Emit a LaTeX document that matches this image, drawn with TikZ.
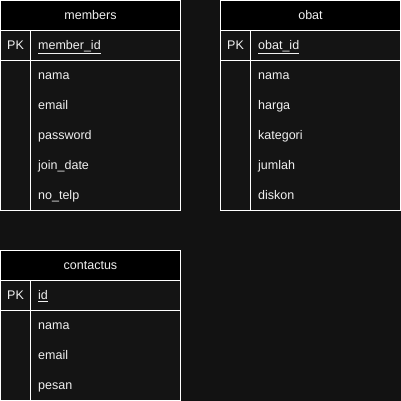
\documentclass[tikz,border=0pt]{standalone}
\usepackage{fontspec}
\setmainfont{Liberation Sans}
\definecolor{bg}{HTML}{121212}
\definecolor{body}{HTML}{141414}
\definecolor{txt}{HTML}{F0F0F0}
\begin{document}
\begin{tikzpicture}[x=1pt,y=-1pt,
  frame/.style={draw=white,line width=1pt},
  hdr/.style={fill=black,draw=white,line width=1pt},
  title/.style={text=txt,font=\fontsize{12.5}{14}\selectfont,anchor=base,inner sep=0pt},
  pk/.style={text=txt,font=\fontsize{12.5}{14}\selectfont,anchor=base,inner sep=0pt},
  attr/.style={text=txt,font=\fontsize{12.5}{14}\selectfont,anchor=base west,inner sep=0pt}]
\fill[bg] (0,0) rectangle (401,401);
\useasboundingbox (0,0) rectangle (401,401);
% ---- members
\fill[body] (0.5,30.5) rectangle (180.5,210.5);
\draw[hdr] (0.5,0.5) rectangle (180.5,30.5);
\draw[frame] (0.5,30.5) rectangle (180.5,210.5);
\draw[frame] (0.5,60.5) -- (180.5,60.5);
\draw[frame] (30.5,30.5) -- (30.5,210.5);
\node[title] (mT) at (90.5,19.5) {members};
\node[pk] (mPK) at (15.5,49.5) {PK};
\node[attr] (m1) at (38,49.5) {\underline{member\_id}};
\node[attr] (m2) at (38,79.5) {nama};
\node[attr] (m3) at (38,109.5) {email};
\node[attr] (m4) at (38,139.5) {password};
\node[attr] (m5) at (38,169.5) {join\_date};
\node[attr] (m6) at (38,199.5) {no\_telp};
% ---- obat
\fill[body] (220.5,30.5) rectangle (400.5,210.5);
\draw[hdr] (220.5,0.5) rectangle (400.5,30.5);
\draw[frame] (220.5,30.5) rectangle (400.5,210.5);
\draw[frame] (220.5,60.5) -- (400.5,60.5);
\draw[frame] (250.5,30.5) -- (250.5,210.5);
\node[title] (oT) at (310.5,19.5) {obat};
\node[pk] (oPK) at (235.5,49.5) {PK};
\node[attr] (o1) at (258,49.5) {\underline{obat\_id}};
\node[attr] (o2) at (258,79.5) {nama};
\node[attr] (o3) at (258,109.5) {harga};
\node[attr] (o4) at (258,139.5) {kategori};
\node[attr] (o5) at (258,169.5) {jumlah};
\node[attr] (o6) at (258,199.5) {diskon};
% ---- contactus
\fill[body] (0.5,280.5) rectangle (180.5,400.5);
\draw[hdr] (0.5,250.5) rectangle (180.5,280.5);
\draw[frame] (0.5,280.5) rectangle (180.5,400.5);
\draw[frame] (0.5,310.5) -- (180.5,310.5);
\draw[frame] (30.5,280.5) -- (30.5,400.5);
\node[title] (cT) at (90.5,269.5) {contactus};
\node[pk] (cPK) at (15.5,299.5) {PK};
\node[attr] (c1) at (38,299.5) {\underline{id}};
\node[attr] (c2) at (38,329.5) {nama};
\node[attr] (c3) at (38,359.5) {email};
\node[attr] (c4) at (38,389.5) {pesan};
\end{tikzpicture}
\end{document}
